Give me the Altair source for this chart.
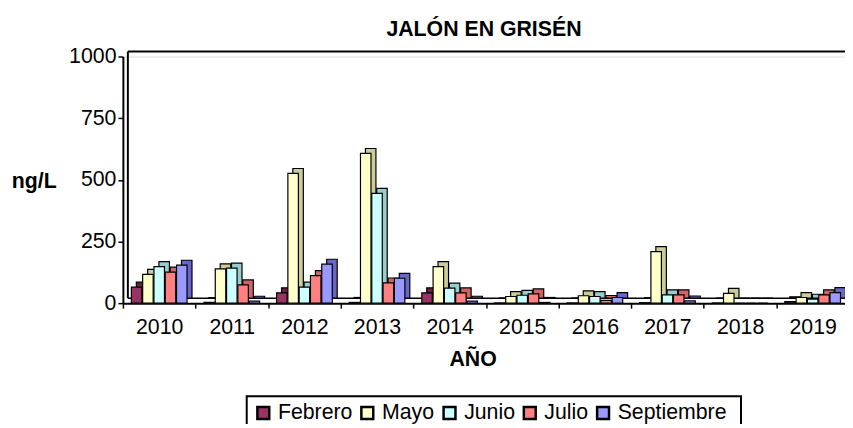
import json
import altair as alt
import pandas as pd

# ---------------- data ----------------
years = ["2010", "2011", "2012", "2013", "2014", "2015", "2016", "2017", "2018", "2019"]
months = ["Febrero", "Mayo", "Junio", "Julio", "Septiembre"]
febrero = [65, 3, 42, 3, 42, 1, 1, 2, 1, 6]
mayo = [117, 139, 526, 607, 148, 27, 30, 209, 40, 23]
junio = [148, 142, 65, 445, 61, 32, 27, 34, 0, 16]
julio = [126, 74, 112, 82, 42, 38, 11, 34, 0, 34]
septiembre = [154, 8, 158, 101, 8, 3, 23, 9, 0, 43]
series = [febrero, mayo, junio, julio, septiembre]

front_colors = ["#993366", "#FFFFCC", "#CCFFFF", "#FF8080", "#9999FF"]
depth_colors = ["#66223F", "#CCCC99", "#99CCCC", "#CC6666", "#6666CC"]

# ---------------- layout constants ----------------
PLOT_W = 729
PLOT_H = 249
STEP_PX = 73.3            # width of one year band in pixels
SLOT = 1 / 6.43           # one month slot, as a fraction of a year band
BAR_W = 0.93 * SLOT
START = 0.75 * SLOT
DEPTH = 5                 # 3-D depth in pixels
FONT = "Liberation Sans"
FS = 21.5

rows = []
for mi, (m, vals) in enumerate(zip(months, series)):
    for yi, (y, v) in enumerate(zip(years, vals)):
        pos = yi + START + mi * SLOT
        rows.append({"year": y, "month": m, "value": v, "pos": pos, "pos2": pos + BAR_W})
df = pd.DataFrame(rows)

xscale = alt.Scale(domain=[0, PLOT_W / STEP_PX], nice=False, zero=False)
yscale = alt.Scale(domain=[0, 1000], nice=False)

xaxis = alt.Axis(
    values=list(range(11)),
    labelExpr=json.dumps(years) + "[datum.value] || ''",
    labelOffset=STEP_PX / 2,
    labelFlush=False, labelOverlap=False, labelBound=False,
    grid=False, tickSize=5, tickWidth=1.5, tickColor="black",
    domainColor="black", domainWidth=2,
    labelFontSize=FS, labelFont=FONT, labelColor="black", labelPadding=9,
    title="AÑO", titleFontSize=FS, titleFont=FONT, titleFontWeight="bold",
    titleColor="black", titleX=353, titleY=63, titleAlign="center",
    titleBaseline="alphabetic",
)
yaxis = alt.Axis(
    values=[0, 250, 500, 750, 1000], format="d",
    grid=False, tickSize=5, tickWidth=1.5, tickColor="black",
    domainColor="black", domainWidth=2,
    labelFontSize=FS, labelFont=FONT, labelColor="black", labelPadding=2,
    title="ng/L", titleAngle=0, titleFontSize=FS, titleFont=FONT,
    titleFontWeight="bold", titleColor="black", titleX=-90, titleY=132,
    titleAlign="center", titleBaseline="alphabetic",
)

base = alt.Chart(df)

back = base.mark_bar(
    xOffset=DEPTH, x2Offset=DEPTH, yOffset=-DEPTH, y2Offset=-DEPTH,
    stroke="black", strokeWidth=1.2,
).encode(
    x=alt.X("pos:Q", scale=xscale, axis=xaxis),
    x2="pos2:Q",
    y=alt.Y("value:Q", scale=yscale, axis=yaxis),
    y2=alt.datum(0),
    color=alt.Color("month:N", scale=alt.Scale(domain=months, range=depth_colors), legend=None),
)

front = base.mark_bar(stroke="black", strokeWidth=1.2).encode(
    x=alt.X("pos:Q", scale=xscale, axis=xaxis),
    x2="pos2:Q",
    y=alt.Y("value:Q", scale=yscale, axis=yaxis),
    y2=alt.datum(0),
    color=alt.Color(
        "month:N",
        scale=alt.Scale(domain=months, range=front_colors),
        legend=alt.Legend(
            title=None, orient="none", legendX=125, legendY=343,
            direction="horizontal", symbolType="square", symbolSize=144,
            symbolStrokeColor="black", symbolStrokeWidth=2.5, symbolOpacity=1,
            labelFontSize=FS, labelFont=FONT, labelColor="black",
            labelOffset=4, columnPadding=3, padding=6,
        ),
    ),
)

frame_df = pd.DataFrame({"k": [0]})
wall_top = alt.Chart(frame_df).mark_rule(color="black", strokeWidth=2).encode(
    x=alt.value(DEPTH), x2=alt.value(PLOT_W + 40), y=alt.value(-DEPTH))
wall_left = alt.Chart(frame_df).mark_rule(color="black", strokeWidth=2).encode(
    x=alt.value(DEPTH), y=alt.value(-DEPTH), y2=alt.value(PLOT_H - DEPTH))
floor_back = alt.Chart(frame_df).mark_rule(color="black", strokeWidth=1.5).encode(
    x=alt.value(DEPTH), x2=alt.value(PLOT_W + 40), y=alt.value(PLOT_H - DEPTH))
legend_box = alt.Chart(frame_df).mark_rect(fill="white", stroke="black", strokeWidth=2).encode(
    x=alt.value(125), x2=alt.value(624), y=alt.value(343), y2=alt.value(420))

chart = alt.layer(legend_box, wall_top, wall_left, floor_back, back, front).resolve_scale(
    color="independent"
).properties(
    width=PLOT_W,
    height=PLOT_H,
    autosize=alt.AutoSizeParams(type="none"),
    padding={"left": 116, "top": 47, "right": 0, "bottom": 120},
    title=alt.TitleParams(
        "JALÓN EN GRISÉN", fontSize=FS, font=FONT, fontWeight="bold",
        color="black", anchor="middle", frame="group", offset=5,
    ),
).configure_view(strokeWidth=0).configure(background="white")

chart.save("out.html", embed_options={"renderer": "svg", "actions": False})
